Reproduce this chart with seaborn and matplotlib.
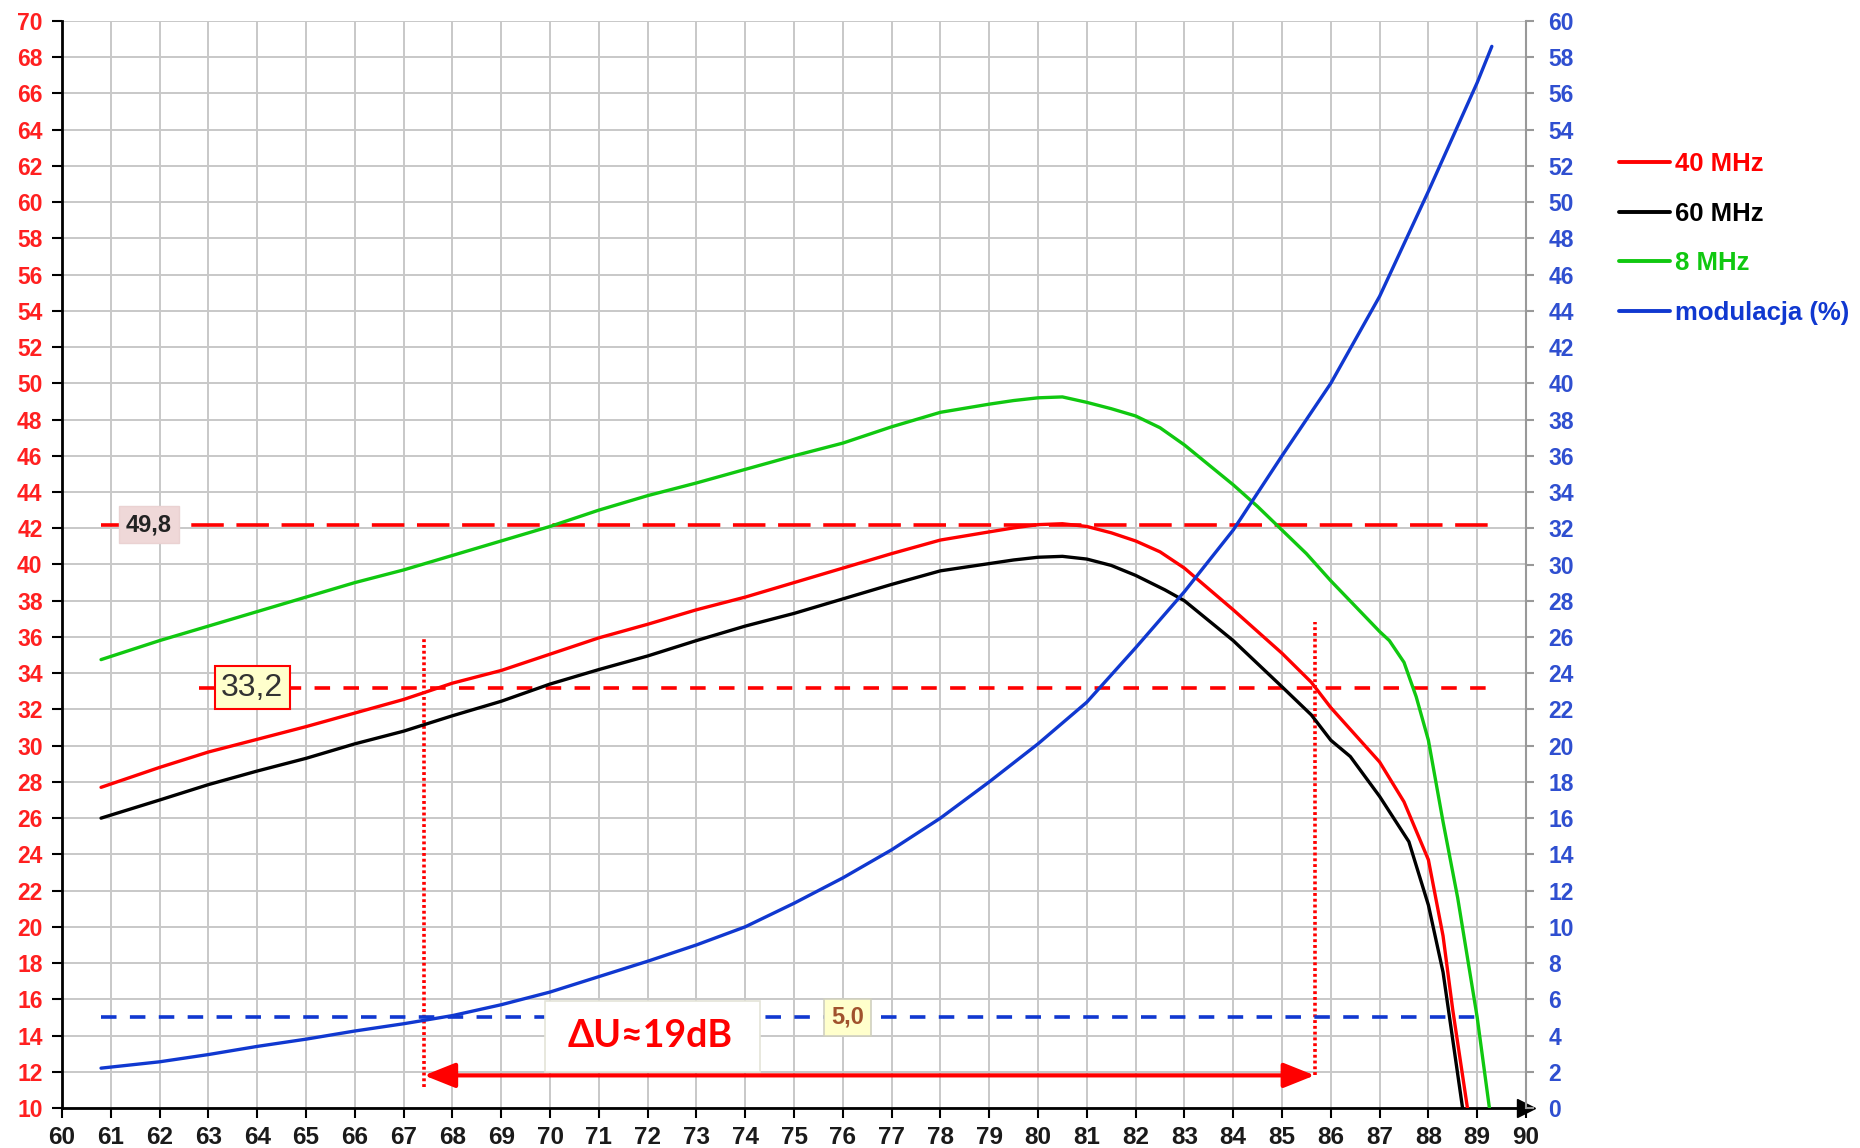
import matplotlib
matplotlib.use("Agg")
import matplotlib.pyplot as plt
from matplotlib.lines import Line2D
from matplotlib.patches import Rectangle
import seaborn as sns

# ---------- data ----------
# level curves, left axis
x_40mhz = [60.8, 62, 63, 64, 65, 66, 67, 68, 69, 70, 71, 72, 73, 74, 75, 76, 77, 78, 79, 79.5,
           80, 80.5, 81, 81.5, 82, 82.5, 83, 84, 85, 85.6, 86, 86.5, 87, 87.5, 88, 88.3, 88.5,
           88.8]
u_40mhz = [27.7, 28.8, 29.65, 30.35, 31.05, 31.8, 32.55, 33.45, 34.15, 35.05, 35.95, 36.7, 37.5,
           38.2, 39.0, 39.8, 40.6, 41.35, 41.8, 42.02, 42.2, 42.25, 42.1, 41.75, 41.3, 40.7, 39.8,
           37.5, 35.1, 33.5, 32.1, 30.6, 29.1, 26.9, 23.7, 19.5, 15.4, 10.0]

x_60mhz = [60.8, 62, 63, 64, 65, 66, 67, 68, 69, 70, 71, 72, 73, 74, 75, 76, 77, 78, 79, 79.5,
           80, 80.5, 81, 81.5, 82, 82.6, 83, 84, 85, 85.6, 86, 86.4, 87, 87.6, 88, 88.3, 88.7]
u_60mhz = [26.0, 27.0, 27.85, 28.6, 29.3, 30.1, 30.8, 31.65, 32.45, 33.4, 34.2, 34.95, 35.8,
           36.6, 37.3, 38.1, 38.9, 39.65, 40.05, 40.25, 40.4, 40.45, 40.3, 39.95, 39.4, 38.6,
           38.0, 35.8, 33.25, 31.7, 30.3, 29.4, 27.2, 24.7, 21.2, 17.5, 10.0]

x_8mhz = [60.8, 62, 63, 64, 65, 66, 67, 68, 69, 70, 71, 72, 73, 74, 75, 76, 77, 78, 79, 79.5,
          80, 80.5, 81, 81.5, 82, 82.5, 83, 83.5, 84, 84.5, 85, 85.5, 86, 86.5, 87, 87.2, 87.5,
          87.75, 88, 88.3, 88.6, 89.0, 89.25]
u_8mhz = [34.75, 35.8, 36.6, 37.4, 38.2, 39.0, 39.7, 40.5, 41.3, 42.1, 43.0, 43.8, 44.5, 45.25,
          46.0, 46.7, 47.6, 48.4, 48.85, 49.05, 49.2, 49.25, 48.95, 48.6, 48.2, 47.55, 46.6,
          45.5, 44.4, 43.2, 41.9, 40.6, 39.1, 37.7, 36.3, 35.8, 34.6, 32.7, 30.3, 25.8, 21.6,
          15.0, 10.0]

# modulation, right axis (%)
x_mod = [60.8, 62, 63, 64, 65, 66, 67, 68, 69, 70, 71, 72, 73, 74, 75, 76, 77, 78, 79, 80,
         81, 82, 83, 84, 85, 86, 87, 88, 89, 89.3]
mod_pct = [2.2, 2.55, 2.95, 3.4, 3.8, 4.25, 4.65, 5.1, 5.7, 6.4, 7.25, 8.1, 9.0, 10.0, 11.3,
           12.7, 14.25, 16.0, 18.0, 20.1, 22.4, 25.4, 28.5, 31.9, 36.0, 40.0, 44.8, 50.6, 56.6,
           58.6]

series_labels = ["40 MHz", "60 MHz", "8 MHz", "modulacja (%)"]

# reference levels and markers
peak_level = 42.2
peak_label = "49,8"
cut_level = 33.2
cut_label = "33,2"
mod_level = 5.0
mod_label = "5,0"
x_low = 67.42
x_high = 85.67
delta_text = "ΔU≈19dB"

RED = "#ff0000"
BLACK = "#000000"
GREEN = "#10c810"
BLUE = "#1038d0"

sns.set_style("white")
plt.rcParams["font.family"] = ["Liberation Sans", "DejaVu Sans"]

fig = plt.figure(figsize=(18.6, 11.48), dpi=100)
ax = fig.add_axes([62 / 1860, 1 - 1108 / 1148, 1464 / 1860, 1087 / 1148])
ax2 = ax.twinx()

# ---------- curves ----------
sns.lineplot(x=x_40mhz, y=u_40mhz, ax=ax, color=RED, lw=2.4, sort=False, zorder=4)
sns.lineplot(x=x_60mhz, y=u_60mhz, ax=ax, color=BLACK, lw=2.4, sort=False, zorder=4)
sns.lineplot(x=x_8mhz, y=u_8mhz, ax=ax, color=GREEN, lw=2.4, sort=False, zorder=4)
sns.lineplot(x=x_mod, y=mod_pct, ax=ax2, color=BLUE, lw=2.4, sort=False, zorder=4)

# ---------- reference lines ----------
ax.hlines(peak_level, 60.8, 89.3, colors=RED, lw=2.6, linestyles=(0, (9, 3.5)), zorder=3)
ax.hlines(cut_level, 62.8, 89.3, colors=RED, lw=2.6, linestyles=(0, (4.3, 3.7)), zorder=3)
ax2.hlines(mod_level, 60.8, 89.15, colors=BLUE, lw=2.6, linestyles=(0, (4.3, 3.7)), zorder=3)
ax.vlines(x_low, 11.15, 36.0, colors=RED, lw=2.6, linestyles=(0, (0.8, 0.8)), zorder=3)
ax.vlines(x_high, 11.8, 36.8, colors=RED, lw=2.6, linestyles=(0, (0.8, 0.8)), zorder=3)
ax.annotate("", xy=(x_low, 11.8), xytext=(x_high, 11.8),
            arrowprops=dict(arrowstyle="<|-|>,head_length=0.95,head_width=0.38",
                            color=RED, lw=3.0, mutation_scale=20, shrinkA=0, shrinkB=0),
            zorder=5)

# ---------- value labels ----------
ax.text(61.78, peak_level, peak_label, ha="center", va="center", fontsize=17,
        fontweight="bold", color="#222222", zorder=6,
        bbox=dict(boxstyle="square,pad=0.3", fc="#efd8d8", ec="#ead2d2"))
ax.text(63.9, cut_level, cut_label, ha="center", va="center", fontsize=23,
        color="#333333", zorder=6,
        bbox=dict(boxstyle="square,pad=0.2", fc="#ffffcc", ec=RED, lw=1.5))
ax2.text(76.1, mod_level, mod_label, ha="center", va="center", fontsize=17,
         fontweight="bold", color="#a0522d", zorder=6,
         bbox=dict(boxstyle="square,pad=0.3", fc="#ffffcc", ec="#d0d0c0", lw=1.2))
ax2.add_patch(Rectangle((69.9, 2.0), 4.4, 3.9, fc="white", ec="#e4e4d8", lw=1.2, zorder=6))
ax2.text(72.05, 3.95, delta_text, ha="center", va="center", fontsize=27, fontweight="bold",
         color=RED, family=["Lato", "DejaVu Sans"], zorder=7)

# ---------- axes ----------
ax.set_xlim(60, 90)
ax.set_ylim(10, 70)
ax2.set_ylim(0, 60)
ax.set_xticks(range(60, 91))
ax.set_yticks(range(10, 71, 2))
ax2.set_yticks(range(0, 61, 2))
ax.set_xlabel("")
ax.set_ylabel("")
ax2.set_ylabel("")

ax.grid(True, color="#c8c8c8", lw=1.4)
ax.set_axisbelow(True)

for side in ["top", "right"]:
    ax.spines[side].set_visible(False)
for side in ["left", "bottom"]:
    ax.spines[side].set_color("black")
    ax.spines[side].set_linewidth(2)
for side in ["top", "left", "bottom"]:
    ax2.spines[side].set_visible(False)
ax2.spines["right"].set_color("#999999")
ax2.spines["right"].set_linewidth(1.5)

ax.tick_params(axis="y", left=True, labelcolor="#ff2020", color="black", length=7,
               width=1.5, pad=7, labelsize=16.5)
ax.tick_params(axis="x", bottom=True, labelcolor="#1a1a1a", color="black", length=7,
               width=1.5, pad=6, labelsize=17.5)
ax2.tick_params(axis="y", right=True, labelcolor="#2f4fd0", color="#999999", length=6,
                width=1.5, pad=10, labelsize=16.5)
for lbl in ax.get_yticklabels() + ax2.get_yticklabels():
    lbl.set_fontweight("bold")
for lbl in ax.get_xticklabels():
    lbl.set_fontweight("bold")
    lbl.set_family(["Liberation Sans Narrow", "Liberation Sans"])

# arrow head at the end of the x axis
ax.plot(1, 0, ">", transform=ax.transAxes, clip_on=False, color="black", ms=13, zorder=8)

# ---------- legend ----------
colors = [RED, BLACK, GREEN, BLUE]
handles = [Line2D([], [], color=c, lw=2.8) for c in colors]
leg = fig.legend(handles, series_labels, loc="upper left",
                 bbox_to_anchor=(1606 / 1860, 1 - 139 / 1148), frameon=False,
                 prop=dict(weight="bold", size=18.5), handlelength=2.0, handletextpad=0.2,
                 labelspacing=1.0, borderpad=0)
for txt, c in zip(leg.get_texts(), colors):
    txt.set_color(c)

fig.savefig("out.png", dpi=100)
